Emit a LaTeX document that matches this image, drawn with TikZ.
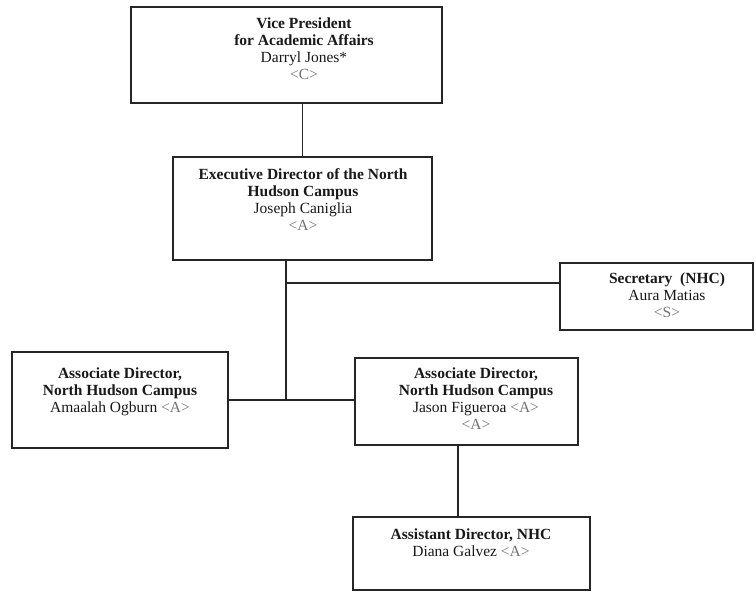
\documentclass[tikz,border=0pt]{standalone}
\usepackage{fontspec}
\setmainfont{Liberation Serif}
\begin{document}
\begin{tikzpicture}[x=1pt,y=-1pt,
  box/.style={draw=black!85,line width=1.3pt,rectangle,inner sep=0pt},
  txt/.style={align=center,anchor=north,inner sep=0pt,
    font=\fontsize{15.5}{17}\selectfont,text=black!90},
  link/.style={draw=black!85,line width=1.1pt}]
\useasboundingbox (0,0) rectangle (756,592);
\newcommand{\grade}[1]{\textcolor{black!55}{<#1>}}

% position boxes (centres and sizes in px)
\node[box,minimum width=311pt,minimum height=96pt] (vp) at (286.5,55) {};
\node[box,minimum width=259pt,minimum height=103pt] (exec) at (302.5,208.5) {};
\node[box,minimum width=193pt,minimum height=67pt] (sec) at (656.5,296.5) {};
\node[box,minimum width=216pt,minimum height=96pt] (assocA) at (120,400) {};
\node[box,minimum width=223pt,minimum height=87pt] (assocB) at (466.5,401.5) {};
\node[box,minimum width=237pt,minimum height=73pt] (asst) at (471.5,553.5) {};

% texts
\node[txt] (vpT) at (304,18) {\textbf{Vice President}\\\textbf{for Academic Affairs}\\Darryl Jones*\\\grade{C}};
\node[txt] (execT) at (303,168) {\textbf{Executive Director of the North}\\\textbf{Hudson Campus}\\Joseph Caniglia\\\grade{A}};
\node[txt] (secT) at (667,273) {\textbf{Secretary\ \ (NHC)}\\Aura Matias\\\grade{S}};
\node[txt] (assocAT) at (120,368) {\textbf{Associate Director,}\\\textbf{North Hudson Campus}\\Amaalah Ogburn \grade{A}};
\node[txt] (assocBT) at (476,368) {\textbf{Associate Director,}\\\textbf{North Hudson Campus}\\Jason Figueroa \grade{A}\\\grade{A}};
\node[txt] (asstT) at (471,529) {\textbf{Assistant Director, NHC}\\Diana Galvez \grade{A}};

% junction points of the connector lines
\coordinate (jsec) at (286,283);
\coordinate (jmid) at (286,400);
\coordinate (jdown) at (458,480);

% connectors
\draw[link] (exec.north) -- (exec.north |- vp.south);
\draw[link] (exec.south -| jsec) -- (jmid);
\draw[link] (jsec) -- (jsec -| sec.west);
\draw[link] (assocA.east |- jmid) -- (jmid) -- (jmid -| assocB.west);
\draw[link] (assocB.south -| jdown) -- (asst.north -| jdown);
\end{tikzpicture}
\end{document}
